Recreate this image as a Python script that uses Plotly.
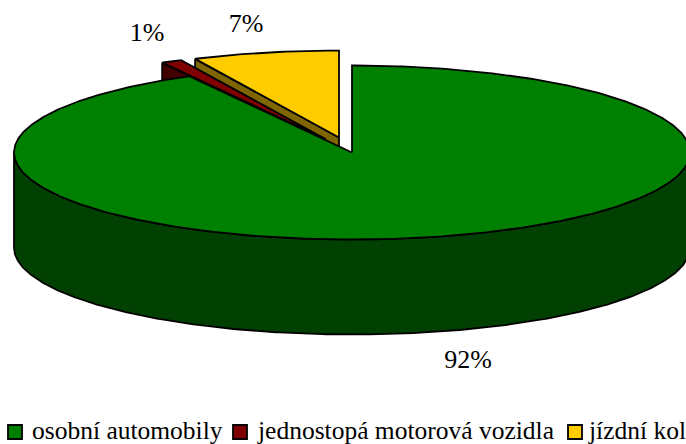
import math
import plotly.graph_objects as go

categories = ["osobní automobily", "jednostopá motorová vozidla", "jízdní kola"]
values = [92, 1, 7]

top_colors = ["#008000", "#800000", "#FFCC00"]
side_colors = ["#004000", "#400000", "#806600"]
exploded = [False, True, True]

CX, CY, RX, RY, DEPTH, EXPLODE = 352, 152.5, 338, 87, 95, 0.176
FONT = "Liberation Serif"
label_pos = [(468, 361), (147, 34), (246, 25)]
legend_marker_x = [15, 240, 575]
legend_text_x = [30, 255, 586]
LEGEND_Y = 430
MARKER_Y = 432


def rim(cx, cy, a0, a1, steps=None):
    steps = steps or max(2, int(abs(a1 - a0) * 2))
    xs, ys = [], []
    for i in range(steps + 1):
        t = math.radians(a0 + (a1 - a0) * i / steps)
        xs.append(cx + RX * math.sin(t))
        ys.append(cy - RY * math.cos(t))
    return xs, ys


fig = go.Figure()


def poly(xs, ys, color):
    fig.add_trace(go.Scatter(
        x=xs, y=ys, mode="lines", fill="toself", fillcolor=color,
        line=dict(color="black", width=1.8), hoverinfo="skip", showlegend=False,
    ))


total = sum(values)
spans, start = [], 0.0
for v in values:
    spans.append((start, start + 360.0 * v / total))
    start += 360.0 * v / total

# back to front: the last slice first, the large one last
for i in reversed(range(len(values))):
    a0, a1 = spans[i]
    cx, cy = CX, CY
    if exploded[i]:
        mid = math.radians((a0 + a1) / 2)
        cx += EXPLODE * RX * math.sin(mid)
        cy -= EXPLODE * RY * math.cos(mid)
    if exploded[i]:
        # cut face on the slice's leading edge
        ex, ey = rim(cx, cy, a0, a0, 1)
        poly([ex[0], cx, cx, ex[0], ex[0]],
             [ey[0], cy, cy + DEPTH, ey[0] + DEPTH, ey[0]], side_colors[i])
    else:
        # outer wall, front half of the rim
        xs, ys = rim(cx, cy, 90, 270)
        poly(xs + xs[::-1] + xs[:1],
             ys + [y + DEPTH for y in ys[::-1]] + ys[:1], side_colors[i])
    xs, ys = rim(cx, cy, a0, a1)
    poly([cx] + xs + [cx], [cy] + ys + [cy], top_colors[i])

fig.add_trace(go.Scatter(
    x=[p[0] for p in label_pos], y=[p[1] for p in label_pos],
    text=[f"{v}%" for v in values], mode="text",
    textposition="middle center",
    textfont=dict(family=FONT, size=26, color="black"),
    hoverinfo="skip", showlegend=False,
))
fig.add_trace(go.Scatter(
    x=legend_marker_x, y=[MARKER_Y] * 3, mode="markers",
    marker=dict(symbol="square", size=14, color=top_colors,
                line=dict(color="black", width=1.8)),
    hoverinfo="skip", showlegend=False,
))
for name, x in zip(categories, legend_text_x):
    fig.add_annotation(x=x, y=LEGEND_Y, text=name, showarrow=False,
                       xanchor="left", yanchor="middle", align="left",
                       font=dict(family=FONT, size=25.5, color="black"))

fig.update_xaxes(range=[0, 686], visible=False, fixedrange=True)
fig.update_yaxes(range=[444, 0], visible=False, fixedrange=True)
fig.update_layout(width=686, height=444, margin=dict(l=0, r=0, t=0, b=0),
                  paper_bgcolor="white", plot_bgcolor="white", showlegend=False)
fig.write_html("out.html", config={"displayModeBar": False},
               post_script="document.body.style.margin='0';document.body.style.overflow='hidden';")
